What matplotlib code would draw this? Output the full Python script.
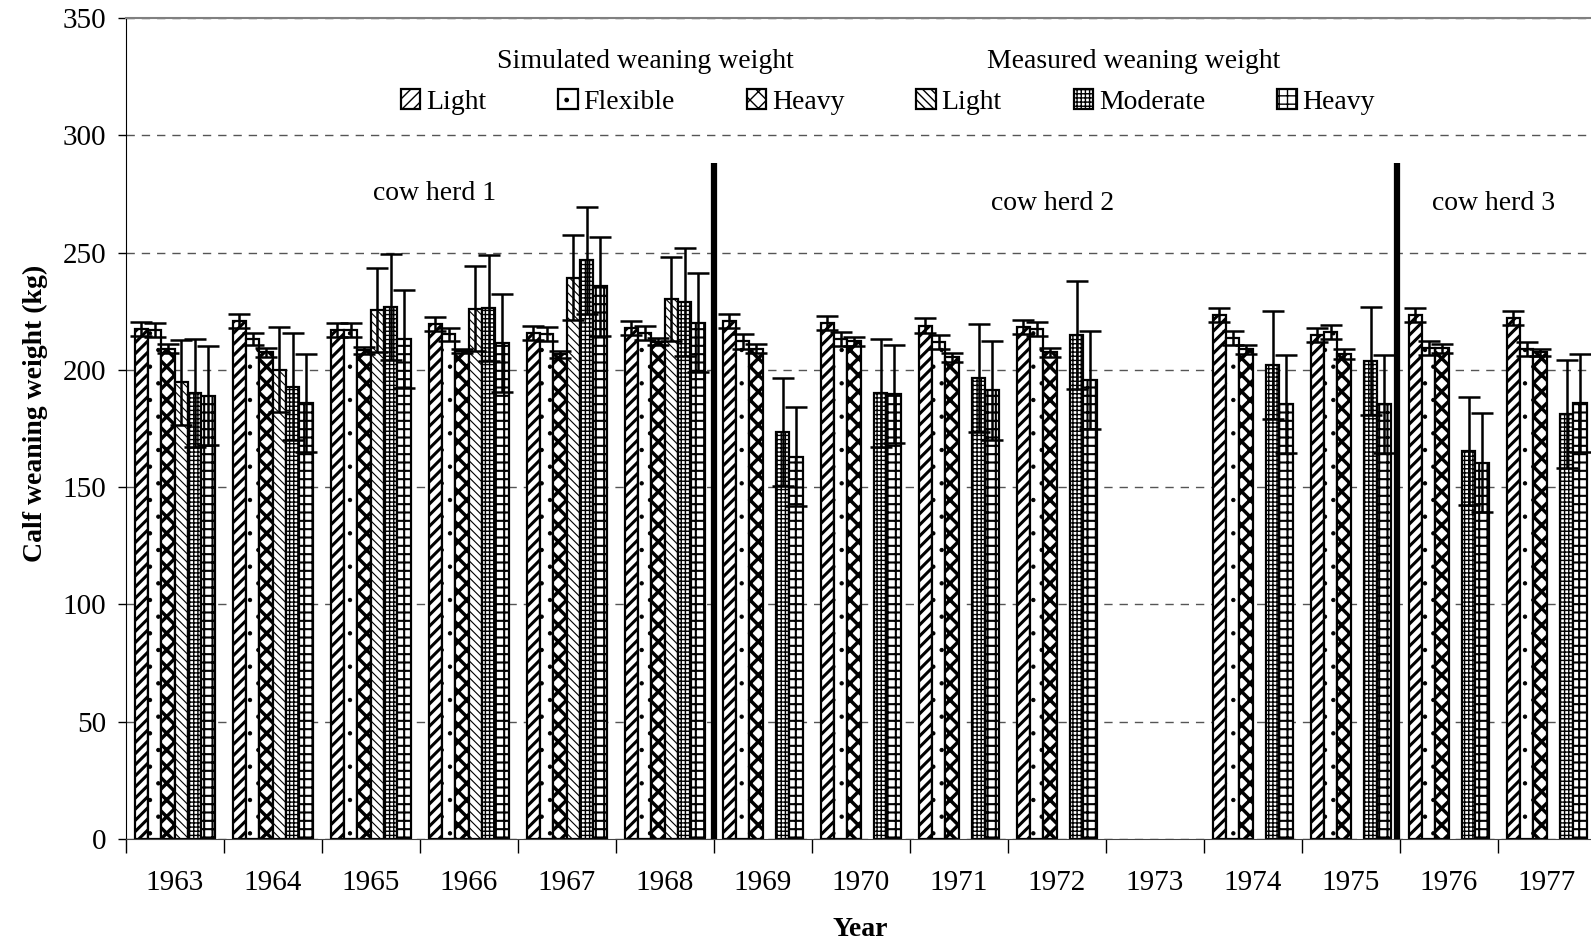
import numpy as np
import matplotlib.pyplot as plt

plt.rcParams['font.family'] = 'Liberation Serif'

nan = np.nan
years = [str(y) for y in range(1963, 1978)]

# simulated weaning weight (kg) and SD
sim_light = [217.5, 220.8, 216.8, 219.7, 215.8, 218.0, 220.8, 219.9, 218.9, 218.2, nan, 223.2, 215.0, 223.2, 222.2]
sim_light_sd = [3, 3, 3, 3, 3, 3, 3, 3, 3, 3, nan, 3, 3, 3, 3]
sim_flex = [216.8, 213.2, 216.8, 215.1, 215.1, 215.7, 212.1, 213.2, 211.8, 217.5, nan, 213.5, 216.1, 209.2, 209.0]
sim_flex_sd = [3, 2.5, 3, 2.7, 3, 2.8, 3, 3, 3, 3, nan, 3, 3, 3, 3]
sim_heavy = [209.0, 207.5, 208.3, 208.0, 206.6, 212.0, 209.0, 212.1, 205.4, 207.5, nan, 208.7, 206.8, 209.2, 207.5]
sim_heavy_sd = [2, 2, 1.5, 1, 1.5, 1.5, 2, 2, 2, 2, nan, 2, 2, 2, 1.5]

# measured weaning weight (kg) and SD
meas_light = [194.7, 200.1, 225.6, 226.1, 239.3, 230.3, nan, nan, nan, nan, nan, nan, nan, nan, nan]
meas_light_sd = [18, 18, 18, 18, 18, 18, nan, nan, nan, nan, nan, nan, nan, nan, nan]
meas_mod = [190.0, 192.9, 226.8, 226.4, 246.7, 228.9, 173.4, 190.2, 196.6, 214.7, nan, 201.9, 203.6, 165.5, 181.2]
meas_mod_sd = [23, 23, 22.5, 22.7, 22.8, 23, 23, 23, 23, 23, nan, 23, 23, 23, 23]
meas_heavy = [189.0, 185.9, 213.2, 211.5, 235.6, 220.1, 163.0, 189.8, 191.2, 195.7, nan, 185.5, 185.5, 160.5, 185.8]
meas_heavy_sd = [21, 21, 21, 21, 21, 21, 21, 21, 21, 21, nan, 21, 21, 21, 21]

series = [
    ("Light", sim_light, sim_light_sd, '///', 2.2),
    ("Flexible", sim_flex, sim_flex_sd, '.', 0.7),
    ("Heavy", sim_heavy, sim_heavy_sd, 'xx', 2.5),
    ("Light", meas_light, meas_light_sd, '\\\\\\\\', 0.8),
    ("Moderate", meas_mod, meas_mod_sd, '++++', 1.0),
    ("Heavy", meas_heavy, meas_heavy_sd, '++', 1.5),
]

fig = plt.figure(figsize=(15.91, 9.43), dpi=100)
ax = fig.add_axes([0.0789, 0.1103, 0.924, 0.8706])

x = np.arange(len(years))
w = 0.136
bars = []
for i, (lab, vals, sd, hatch, hlw) in enumerate(series):
    pos = x + (i - 2.5) * w
    with plt.rc_context({'hatch.linewidth': hlw}):
        b = ax.bar(pos, vals, w, facecolor='white', edgecolor='black',
                   linewidth=1.6, hatch=hatch, label=lab, zorder=2)
    bars.append(b)
    ax.errorbar(pos, vals, yerr=sd, fmt='none', ecolor='black', elinewidth=1.8,
                capsize=8, capthick=1.8, zorder=3)

# herd separators
ax.vlines([5.5, 12.47], 0, 288, color='black', linewidth=4.5, zorder=4)

ax.text(2.65, 275, "cow herd 1", ha='center', va='center', fontsize=20)
ax.text(8.96, 271, "cow herd 2", ha='center', va='center', fontsize=20)
ax.text(13.46, 271, "cow herd 3", ha='center', va='center', fontsize=20)

ax.text(4.80, 331.5, "Simulated weaning weight", ha='center', va='center', fontsize=20)
ax.text(9.79, 331.5, "Measured weaning weight", ha='center', va='center', fontsize=20)

fig.legend(handles=bars, loc='center', bbox_to_anchor=(0.558, 0.892), ncol=6,
           frameon=False, fontsize=20, handlelength=0.7, handleheight=0.7,
           handletextpad=0.2, columnspacing=2.6)

ax.set_xlim(-0.5, len(years) - 0.5)
ax.set_ylim(0, 350)
ax.set_yticks(np.arange(0, 351, 50))
ax.set_xticks(x)
ax.set_xticklabels(years)
ax.set_xticks(np.arange(-0.5, len(years)), minor=True)
ax.tick_params(axis='x', which='major', length=0, pad=22, labelsize=21)
ax.tick_params(axis='x', which='minor', length=10, direction='out', width=1)
ax.tick_params(axis='y', length=6, direction='out', width=1, labelsize=21, pad=8)

ax.yaxis.grid(True, linestyle=(0, (6, 5)), color='#555555', linewidth=1)
ax.set_axisbelow(True)

ax.spines['top'].set_color('#808080')
ax.spines['top'].set_linewidth(1.5)
ax.spines['right'].set_visible(False)
ax.spines['bottom'].set_color('#444444')

ax.set_xlabel("Year", fontsize=20, fontweight='bold', va='center')
ax.xaxis.set_label_coords(0.5, -0.11)
ax.set_ylabel("Calf weaning weight (kg)", fontsize=20, fontweight='bold', va='center')
ax.yaxis.set_label_coords(-0.061, 0.519)

fig.savefig("out.png", dpi=100)
